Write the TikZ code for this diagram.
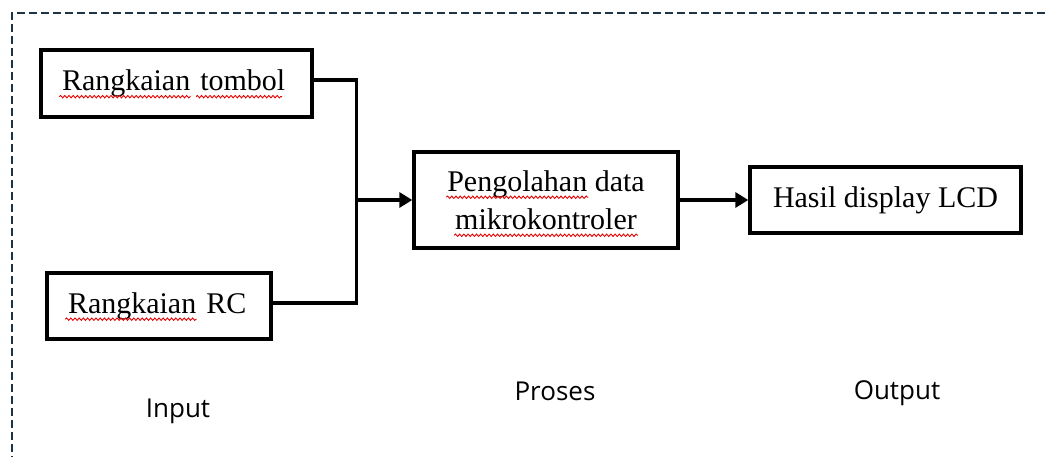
\documentclass[tikz,border=0pt]{standalone}
\usepackage{fontspec}
\setmainfont{Liberation Serif}
\newfontfamily\labelfont{Open Sans}
\usetikzlibrary{arrows.meta,decorations.pathmorphing}
\newcommand\blockfont{\fontsize{30}{38}\selectfont}
% width of a word set in the block font, stored globally in #1
\newcommand\measureword[2]{\setbox0=\hbox{\blockfont #2}\xdef#1{\the\wd0}}
\AtBeginDocument{%
  \measureword\wRang{Rangkaian}%
  \measureword\wRangSp{Rangkaian\ }%
  \measureword\wTombol{tombol}%
  \measureword\wPeng{Pengolahan}%
  \measureword\wLineA{Pengolahan data}%
  \measureword\wMikro{mikrokontroler}%
}
\definecolor{framecol}{HTML}{1E3344}
\tikzset{
  box/.style={draw=black, line width=3.4pt, rectangle, inner ysep=0pt, font=\blockfont},
  wire/.style={draw=black, line width=3.4pt, line join=miter},
  flow/.style={wire, -{Triangle[length=13pt,width=15pt]}},
  frame/.style={draw=framecol, line width=2.4pt, dash pattern=on 8pt off 4pt},
  stage/.style={font=\labelfont\fontsize{26}{30}\selectfont, anchor=base, inner sep=0pt},
  spell/.style={draw=red!90!black, line width=0.9pt,
    decorate, decoration={snake, amplitude=1.2pt, segment length=4.2pt}},
}
\begin{document}
\begin{tikzpicture}[x=1pt, y=-1pt]
  \useasboundingbox (0,0) rectangle (1045,457);
  % dashed outline of the block
  \draw[frame] (1045,13) -- (12,13) -- (12,457);

  % input blocks
  \node[box, text width=229pt, align=left, inner xsep=21pt, minimum height=67pt]
    (tombol) at (176.5,83.5) {Rangkaian tombol};
  \node[box, text width=182pt, align=left, inner xsep=21pt, minimum height=66pt]
    (rc) at (159,306) {Rangkaian RC};

  % processing block
  \node[box, align=center, minimum width=264pt, minimum height=96pt]
    (proses) at (546,200) {Pengolahan data\\mikrokontroler};

  % output block
  \node[box, align=center, minimum width=271pt, minimum height=66pt]
    (lcd) at (885.5,200) {Hasil display LCD};

  % connections
  \coordinate (junc) at (356.5,200);
  \draw[wire] ([yshift=3.5pt]tombol.east) -| (junc) |- ([yshift=3pt]rc.east);
  \draw[flow] (junc) -- (proses.west);
  \draw[flow] (proses.east) -- (lcd.west);

  % spell-checker marks under the flagged words
  \draw[spell] ([xshift=20pt, yshift=-6pt]tombol.base west) -- ++(\wRang+3pt,0);
  \draw[spell] ([xshift=21pt+\wRangSp, yshift=-6pt]tombol.base west) -- ++(\wTombol+1pt,0);
  \draw[spell] ([xshift=20pt, yshift=-6pt]rc.base west) -- ++(\wRang+3pt,0);
  \draw[spell] ([xshift=-0.5*\wLineA-1pt, yshift=32pt]proses.base) -- ++(\wPeng+2pt,0);
  \draw[spell] ([xshift=-0.5*\wMikro-1pt, yshift=-6pt]proses.base) -- ++(\wMikro+2pt,0);

  % stage captions
  \node[stage] (lblin) at (178,417) {Input};
  \node[stage] (lblpr) at (555,400) {Proses};
  \node[stage] (lblout) at (897,399) {Output};
\end{tikzpicture}
\end{document}
